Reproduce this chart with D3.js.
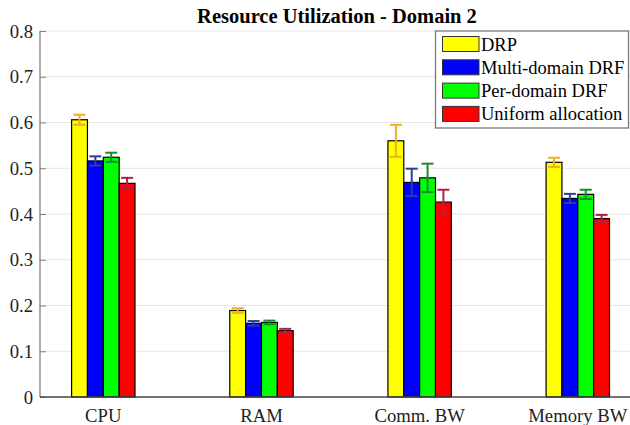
<!DOCTYPE html>
<html><head><meta charset="utf-8">
<script src="https://cdn.jsdelivr.net/npm/d3@7"></script>
</head><body style="margin:0">
<svg id="c" width="630" height="425"></svg>
<script>
const categories = ["CPU", "RAM", "Comm. BW", "Memory BW"];
const seriesNames = ["DRP", "Multi-domain DRF", "Per-domain DRF", "Uniform allocation"];
const drp      = [0.606, 0.189, 0.560, 0.513];
const multiDRF = [0.516, 0.161, 0.469, 0.434];
const perDRF   = [0.524, 0.163, 0.479, 0.443];
const uniform  = [0.467, 0.145, 0.426, 0.390];
const drpErr      = [0.011, 0.005, 0.035, 0.010];
const multiDRFErr = [0.010, 0.005, 0.030, 0.010];
const perDRFErr   = [0.010, 0.004, 0.031, 0.010];
const uniformErr  = [0.012, 0.004, 0.027, 0.008];
const yTicks = [0, 0.1, 0.2, 0.3, 0.4, 0.5, 0.6, 0.7, 0.8];

const values = [drp, multiDRF, perDRF, uniform];
const errs = [drpErr, multiDRFErr, perDRFErr, uniformErr];
const fills = ["#ffff00", "#0000ff", "#00ff00", "#ff0000"];
const errColors = ["#edb120", "#2b3f99", "#1a8a2a", "#b5203f"];
const FONT = "Liberation Serif";

const svg = d3.select("#c");
const L = 40, R = 634, T = 31, B = 397;

const y = d3.scaleLinear().domain([0, 0.8]).range([B, T]);
const xc = d3.scaleLinear().domain([0, 3]).range([103.3, 577.8]);
const barW = 15.85;
const xs = d3.scaleBand().domain(d3.range(4)).range([-2 * barW, 2 * barW]).padding(0);

// gridlines
svg.append("g").selectAll("line").data(yTicks.filter(d => d > 0)).join("line")
  .attr("x1", L).attr("x2", R)
  .attr("y1", d => y(d)).attr("y2", d => y(d))
  .attr("stroke", "#e6e6e6").attr("stroke-width", 1);

// bars
categories.forEach((c, ci) => {
  values.forEach((s, si) => {
    const x0 = xc(ci) + xs(si);
    svg.append("rect")
      .attr("x", x0).attr("y", y(s[ci]))
      .attr("width", xs.bandwidth()).attr("height", y(0) - y(s[ci]))
      .attr("fill", fills[si]).attr("stroke", "#000").attr("stroke-width", 1.2);
  });
});
// error bars
categories.forEach((c, ci) => {
  values.forEach((s, si) => {
    const cx = xc(ci) + xs(si) + xs.bandwidth() / 2;
    const lo = y(s[ci] - errs[si][ci]), hi = y(s[ci] + errs[si][ci]);
    const g = svg.append("g").attr("stroke", errColors[si]).attr("stroke-width", 2);
    g.append("line").attr("x1", cx).attr("x2", cx).attr("y1", lo).attr("y2", hi);
    g.append("line").attr("x1", cx - 6).attr("x2", cx + 6).attr("y1", lo).attr("y2", lo);
    g.append("line").attr("x1", cx - 6).attr("x2", cx + 6).attr("y1", hi).attr("y2", hi);
  });
});

// y axis
const yAxis = d3.axisLeft(y).tickValues(yTicks).tickSize(-6).tickFormat("");
const ya = svg.append("g").attr("transform", `translate(${L},0)`).call(yAxis);
ya.select(".domain").attr("stroke", "#808080").attr("stroke-width", 1.3).attr("d", `M0,${B}V${T}`);
ya.selectAll(".tick line").attr("stroke", "#808080");
yTicks.forEach(t => {
  svg.append("text").attr("x", L - 7).attr("y", y(t) + 6.5).attr("text-anchor", "end")
    .style("font-family", FONT).attr("font-size", 18.7).attr("fill", "#222")
    .text(t === 0 ? "0" : d3.format(".1f")(t));
});

// x axis
const xAxis = d3.axisBottom(xc).tickValues(d3.range(4)).tickSize(0).tickFormat("");
const xa = svg.append("g").attr("transform", `translate(0,${B})`).call(xAxis);
xa.select(".domain").attr("stroke", "#444").attr("stroke-width", 1.3).attr("d", `M${L},0H${R}`);
categories.forEach((c, i) => {
  svg.append("text").attr("x", xc(i)).attr("y", 422).attr("text-anchor", "middle")
    .style("font-family", FONT).attr("font-size", 18.7).attr("fill", "#222").text(c);
});

// title
svg.append("text").attr("x", 337).attr("y", 23).attr("text-anchor", "middle")
  .style("font-family", FONT).attr("font-size", 20.5).attr("font-weight", "bold")
  .text("Resource Utilization - Domain 2");

// legend
const lg = svg.append("g");
lg.append("rect").attr("x", 435.5).attr("y", 31).attr("width", 193).attr("height", 97)
  .attr("fill", "#fff").attr("stroke", "#7a7a7a").attr("stroke-width", 1.3);
seriesNames.forEach((n, i) => {
  const cy = 44 + i * 23.3;
  lg.append("rect").attr("x", 442.5).attr("y", cy - 7.5).attr("width", 36.5).attr("height", 15)
    .attr("fill", fills[i]).attr("stroke", "#333").attr("stroke-width", 1);
  lg.append("text").attr("x", 481).attr("y", cy + 6.5)
    .style("font-family", FONT).attr("font-size", 18.5).attr("fill", "#000").text(n);
});
</script>
</body></html>
